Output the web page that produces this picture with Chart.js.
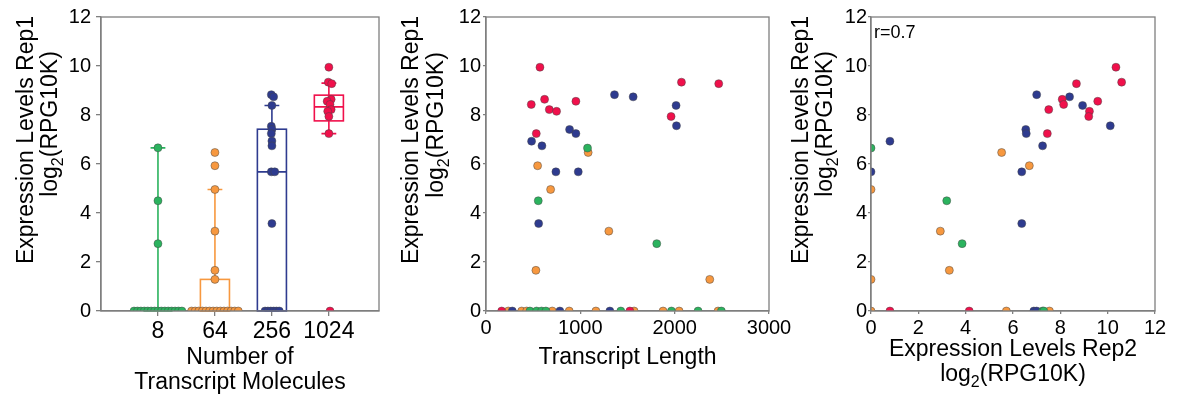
<!DOCTYPE html>
<html>
<head>
<meta charset="utf-8">
<script src="https://cdn.jsdelivr.net/npm/chart.js@4.4.1/dist/chart.umd.min.js"></script>
<style>
  body { margin: 0; background: #fff; }
  #wrap { position: relative; width: 1179px; height: 398px; overflow: hidden; }
  canvas { position: absolute; top: 0; }
</style>
</head>
<body>
<div id="wrap">
  <canvas id="c1" width="390" height="398" style="left:0px"></canvas>
  <canvas id="c2" width="420" height="398" style="left:390px"></canvas>
  <canvas id="c3" width="399" height="398" style="left:780px"></canvas>
</div>
<script>
// Categories (number of transcript molecules) and colours
const categories = ["8", "64", "256", "1024"];
const colors = ["#2bb35e", "#f7983f", "#2e3b8f", "#f0104b"];

// Panel 1: rep1 expression per group, with swarm x positions
const swarmY8 = [6.66, 4.50, 2.75, 0, 0, 0, 0, 0, 0, 0, 0, 0, 0, 0, 0, 0, 0, 0];
const swarmX8 = [1, 1, 1, 0.58, 0.64, 0.70, 0.76, 0.82, 0.88, 0.94, 1.00, 1.06, 1.12, 1.18, 1.24, 1.30, 1.36, 1.42];
const swarmY64 = [6.47, 5.93, 4.96, 3.26, 1.66, 1.29, 0, 0, 0, 0, 0, 0, 0, 0, 0, 0, 0, 0, 0, 0];
const swarmX64 = [2, 2, 2, 2, 2, 2, 1.59, 1.653, 1.716, 1.779, 1.842, 1.905, 1.968, 2.032, 2.095, 2.158, 2.221, 2.284, 2.347, 2.41];
const swarmY256 = [8.83, 8.74, 8.39, 7.54, 7.41, 7.24, 6.94, 6.74, 5.68, 5.68, 3.57, 0, 0, 0, 0, 0, 0];
const swarmX256 = [2.99, 3.03, 3.0, 2.99, 3.0, 2.99, 3.0, 3.0, 2.99, 3.05, 3.0, 2.88, 2.93, 2.98, 3.03, 3.08, 3.13];
const swarmY1024 = [9.95, 9.34, 9.28, 8.64, 8.56, 8.43, 8.22, 8.15, 7.94, 7.24, 0];
const swarmX1024 = [4.0, 3.99, 4.05, 4.04, 3.97, 4.02, 4.04, 3.98, 4.0, 4.0, 4.02];

// Box plot stats per group
const boxQ1 = [0, 0, 0, 7.76];
const boxMedian = [0, 0, 5.68, 8.33];
const boxQ3 = [0, 1.29, 7.42, 8.81];
const whiskerLow = [0, 0, 0, 7.24];
const whiskerHigh = [6.66, 4.96, 8.39, 9.30];

// Panel 2: transcript length vs rep1
const lenGreen = [1076, 554, 1810, 466, 536, 589, 635, 1429, 1966, 2248, 2495];
const rep1Green = [6.65, 4.50, 2.75, 0, 0, 0, 0, 0, 0, 0, 0];
const lenOrange = [1083, 547, 685, 1302, 529, 2372, 236, 378, 431, 702, 882, 1165, 1570, 1877, 2047, 2460];
const rep1Orange = [6.47, 5.93, 4.96, 3.26, 1.66, 1.29, 0, 0, 0, 0, 0, 0, 0, 0, 0, 0];
const lenBlue = [1362, 1560, 2015, 886, 953, 2019, 483, 593, 741, 978, 558, 279, 783, 1313];
const rep1Blue = [8.83, 8.74, 8.39, 7.41, 7.24, 7.56, 6.93, 6.74, 5.68, 5.68, 3.57, 0, 0, 0];
const lenRed = [572, 2072, 2467, 621, 480, 953, 671, 748, 1962, 533, 166, 1525];
const rep1Red = [9.95, 9.34, 9.28, 8.64, 8.43, 8.56, 8.22, 8.15, 7.94, 7.24, 0, 0];

// Panel 3: rep2 vs rep1
const rep2Green = [0, 3.20, 3.85, 7.25, 7.30];
const rep1Green3 = [6.65, 4.50, 2.75, 0, 0];
const rep2Orange = [5.52, 6.69, 0, 2.93, 3.31, 0, 0, 5.72, 7.54];
const rep1Orange3 = [6.47, 5.93, 4.96, 3.26, 1.66, 1.29, 0, 0, 0];
const rep2Blue = [7.00, 8.39, 8.94, 10.11, 6.54, 6.56, 7.25, 0.80, 6.37, 0, 6.37, 6.88, 7.00];
const rep1Blue3 = [8.83, 8.74, 8.39, 7.56, 7.41, 7.24, 6.74, 6.93, 5.68, 5.68, 3.57, 0, 0];
const rep2Red = [10.35, 10.59, 8.68, 8.08, 8.14, 9.58, 7.51, 9.23, 9.20, 7.45, 0.80, 4.15];
const rep1Red3 = [9.95, 9.34, 9.28, 8.64, 8.43, 8.56, 8.22, 8.15, 7.94, 7.24, 0, 0];
const correlation = "r=0.7";

const FONT = '"Liberation Sans", Arial, sans-serif';
const AXIS = "#7f7f7f";
Chart.defaults.font.family = FONT;
Chart.defaults.color = "#000";

const zip = (xs, ys) => xs.map((x, i) => ({ x: x, y: ys[i] }));

function pointSet(data, color) {
  return {
    data: data,
    showLine: false,
    clip: 0,
    pointRadius: 4,
    pointHoverRadius: 4,
    pointBackgroundColor: color,
    pointBorderColor: "rgba(70,70,70,0.8)",
    pointBorderWidth: 0.6
  };
}

// draw text with a subscript part: segs = [[text, isSub], ...]
function drawRich(ctx, segs, x, y, rot, size) {
  const main = size + "px " + FONT;
  const sub = Math.round(size * 0.68) + "px " + FONT;
  ctx.save();
  ctx.translate(x, y);
  ctx.rotate(rot);
  let total = 0;
  segs.forEach(s => { ctx.font = s[1] ? sub : main; total += ctx.measureText(s[0]).width; });
  let cx = -total / 2;
  ctx.textBaseline = "middle";
  ctx.textAlign = "left";
  ctx.fillStyle = "#000";
  segs.forEach(s => {
    ctx.font = s[1] ? sub : main;
    ctx.fillText(s[0], cx, s[1] ? size * 0.32 : 0);
    cx += ctx.measureText(s[0]).width;
  });
  ctx.restore();
}

const rep1Title = [["Expression Levels Rep1", 0]];
const logTitle = [["log", 0], ["2", 1], ["(RPG10K)", 0]];

function labelPlugin(items, note) {
  return {
    id: "labels",
    afterDraw(chart) {
      const ctx = chart.ctx;
      items.forEach(it => drawRich(ctx, it.segs, it.x, it.y, it.rot || 0, it.size || 23));
      if (note) {
        ctx.save();
        ctx.font = "18px " + FONT;
        ctx.fillStyle = "#000";
        ctx.textBaseline = "middle";
        ctx.fillText(note, chart.chartArea.left + 3, chart.chartArea.top + 16);
        ctx.restore();
      }
    }
  };
}

const framePlugin = {
  id: "frame",
  afterDatasetsDraw(chart) {
    const a = chart.chartArea, ctx = chart.ctx;
    ctx.save();
    ctx.strokeStyle = AXIS;
    ctx.lineWidth = 1.3;
    ctx.strokeRect(a.left, a.top, a.right - a.left, a.bottom - a.top);
    ctx.restore();
  }
};

// boxes and whiskers for panel 1
const boxPlugin = {
  id: "boxes",
  beforeDatasetsDraw(chart) {
    const xs = chart.scales.x, ys = chart.scales.y, ctx = chart.ctx;
    ctx.save();
    ctx.lineWidth = 1.6;
    categories.forEach((c, i) => {
      const cx = xs.getPixelForValue(i + 1);
      const hw = xs.getPixelForValue(i + 1.255) - cx;
      const cw = xs.getPixelForValue(i + 1.13) - cx;
      const q1 = ys.getPixelForValue(boxQ1[i]);
      const q3 = ys.getPixelForValue(boxQ3[i]);
      const med = ys.getPixelForValue(boxMedian[i]);
      const lo = ys.getPixelForValue(whiskerLow[i]);
      const hi = ys.getPixelForValue(whiskerHigh[i]);
      ctx.strokeStyle = colors[i];
      ctx.beginPath();
      ctx.moveTo(cx, q3); ctx.lineTo(cx, hi);
      ctx.moveTo(cx - cw, hi); ctx.lineTo(cx + cw, hi);
      ctx.moveTo(cx, q1); ctx.lineTo(cx, lo);
      ctx.moveTo(cx - cw, lo); ctx.lineTo(cx + cw, lo);
      ctx.moveTo(cx - hw, med); ctx.lineTo(cx + hw, med);
      ctx.stroke();
      if (boxQ3[i] > boxQ1[i]) ctx.strokeRect(cx - hw, q3, hw * 2, q1 - q3);
    });
    ctx.restore();
  }
};

function yScale(width, tickLen, pad) {
  return {
    min: 0, max: 12,
    ticks: { stepSize: 2, font: { size: 20 }, padding: pad },
    grid: { drawOnChartArea: false, tickLength: tickLen, color: AXIS, lineWidth: 1.3 },
    border: { color: AXIS, width: 1.3 },
    afterFit: s => { s.width = width; }
  };
}

function baseOptions(xs, ys, right) {
  return {
    responsive: false,
    animation: false,
    events: [],
    devicePixelRatio: 1,
    layout: { padding: { top: 17, right: right, left: 0, bottom: 0 } },
    plugins: { legend: { display: false }, tooltip: { enabled: false } },
    scales: { x: xs, y: ys }
  };
}

// Panel 1
new Chart(document.getElementById("c1"), {
  type: "scatter",
  data: {
    datasets: [
      pointSet(zip(swarmX8, swarmY8), colors[0]),
      pointSet(zip(swarmX64, swarmY64), colors[1]),
      pointSet(zip(swarmX256, swarmY256), colors[2]),
      pointSet(zip(swarmX1024, swarmY1024), colors[3])
    ]
  },
  options: baseOptions({
    type: "linear", min: 0, max: 4.88,
    afterBuildTicks: s => { s.ticks = categories.map((c, i) => ({ value: i + 1 })); },
    ticks: { callback: v => categories[v - 1] || "", font: { size: 23 }, autoSkip: false, maxRotation: 0, padding: 2 },
    grid: { drawOnChartArea: false, tickLength: 5, color: AXIS, lineWidth: 1.3 },
    border: { color: AXIS, width: 1.3 },
    afterFit: s => { s.height = 87; }
  }, yScale(101, 5, 5), 11),
  plugins: [boxPlugin, framePlugin, labelPlugin([
    { segs: rep1Title, x: 27, y: 140, rot: -Math.PI / 2 },
    { segs: logTitle, x: 51, y: 124, rot: -Math.PI / 2 },
    { segs: [["Number of", 0]], x: 240, y: 358 },
    { segs: [["Transcript Molecules", 0]], x: 240, y: 383 }
  ])]
});

// Panel 2
new Chart(document.getElementById("c2"), {
  type: "scatter",
  data: {
    datasets: [
      pointSet(zip(lenGreen, rep1Green), colors[0]),
      pointSet(zip(lenRed, rep1Red), colors[3]),
      pointSet(zip(lenBlue, rep1Blue), colors[2]),
      pointSet(zip(lenOrange, rep1Orange), colors[1])
    ]
  },
  options: baseOptions({
    type: "linear", min: 0, max: 3000,
    ticks: { stepSize: 1000, callback: v => String(v), font: { size: 20 }, maxRotation: 0, padding: 2 },
    grid: { drawOnChartArea: false, tickLength: 3, color: AXIS, lineWidth: 1.3 },
    border: { color: AXIS, width: 1.3 },
    afterFit: s => { s.height = 87; }
  }, yScale(96, 3, 2), 41),
  plugins: [framePlugin, labelPlugin([
    { segs: rep1Title, x: 22, y: 140, rot: -Math.PI / 2 },
    { segs: logTitle, x: 47, y: 125, rot: -Math.PI / 2 },
    { segs: [["Transcript Length", 0]], x: 237.5, y: 358 }
  ])]
});

// Panel 3
new Chart(document.getElementById("c3"), {
  type: "scatter",
  data: {
    datasets: [
      pointSet(zip(rep2Green, rep1Green3), colors[0]),
      pointSet(zip(rep2Red, rep1Red3), colors[3]),
      pointSet(zip(rep2Blue, rep1Blue3), colors[2]),
      pointSet(zip(rep2Orange, rep1Orange3), colors[1])
    ]
  },
  options: baseOptions({
    type: "linear", min: 0, max: 12,
    ticks: { stepSize: 2, font: { size: 20 }, maxRotation: 0, padding: 2 },
    grid: { drawOnChartArea: false, tickLength: 3, color: AXIS, lineWidth: 1.3 },
    border: { color: AXIS, width: 1.3 },
    afterFit: s => { s.height = 87; }
  }, yScale(91, 3, 1), 24),
  plugins: [framePlugin, labelPlugin([
    { segs: rep1Title, x: 22, y: 140, rot: -Math.PI / 2 },
    { segs: logTitle, x: 46, y: 124, rot: -Math.PI / 2 },
    { segs: [["Expression Levels Rep2", 0]], x: 233, y: 350 },
    { segs: logTitle, x: 233, y: 375 }
  ], correlation)]
});
</script>
</body>
</html>
